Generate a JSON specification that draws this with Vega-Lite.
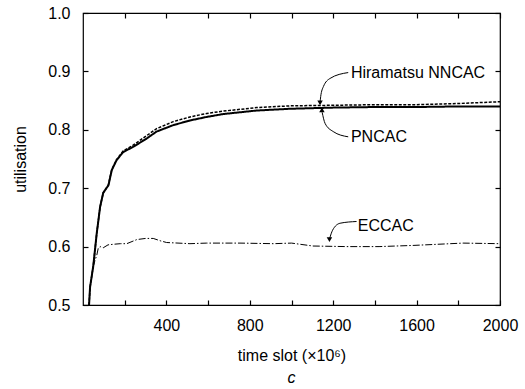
{
  "$schema": "https://vega.github.io/schema/vega-lite/v6.json",
  "autosize": "none",
  "width": 417,
  "height": 292,
  "padding": {"left": 83, "top": 13, "right": 25, "bottom": 84},
  "background": "white",
  "config": {
    "font": "Liberation Sans",
    "view": {"stroke": "black", "strokeWidth": 1.2},
    "axis": {"domainColor": "black", "tickColor": "black", "tickWidth": 1.2, "labelColor": "black", "titleColor": "black", "grid": false, "labelFont": "Liberation Sans", "titleFont": "Liberation Sans", "labelFontSize": 16, "titleFontSize": 16, "titleFontWeight": "normal"}
  },
  "title": {"text": "c", "orient": "bottom", "fontStyle": "italic", "fontWeight": "normal", "fontSize": 16, "font": "Liberation Sans", "color": "black", "offset": 7},
  "datasets": {
    "curves": [
      {"s": "PNCAC", "t": 29, "u": 0.5},
      {"s": "PNCAC", "t": 34, "u": 0.531},
      {"s": "PNCAC", "t": 49, "u": 0.566},
      {"s": "PNCAC", "t": 66, "u": 0.623},
      {"s": "PNCAC", "t": 82, "u": 0.668},
      {"s": "PNCAC", "t": 97, "u": 0.692},
      {"s": "PNCAC", "t": 122, "u": 0.705},
      {"s": "PNCAC", "t": 138, "u": 0.731},
      {"s": "PNCAC", "t": 161, "u": 0.748},
      {"s": "PNCAC", "t": 193, "u": 0.762},
      {"s": "PNCAC", "t": 242, "u": 0.771},
      {"s": "PNCAC", "t": 305, "u": 0.785},
      {"s": "PNCAC", "t": 353, "u": 0.797},
      {"s": "PNCAC", "t": 433, "u": 0.808},
      {"s": "PNCAC", "t": 513, "u": 0.816},
      {"s": "PNCAC", "t": 593, "u": 0.822},
      {"s": "PNCAC", "t": 673, "u": 0.827},
      {"s": "PNCAC", "t": 753, "u": 0.830},
      {"s": "PNCAC", "t": 833, "u": 0.833},
      {"s": "PNCAC", "t": 993, "u": 0.836},
      {"s": "PNCAC", "t": 1200, "u": 0.838},
      {"s": "PNCAC", "t": 1400, "u": 0.839},
      {"s": "PNCAC", "t": 1600, "u": 0.839},
      {"s": "PNCAC", "t": 1800, "u": 0.840},
      {"s": "PNCAC", "t": 2000, "u": 0.840},
      {"s": "Hiramatsu", "t": 29, "u": 0.5},
      {"s": "Hiramatsu", "t": 34, "u": 0.531},
      {"s": "Hiramatsu", "t": 49, "u": 0.566},
      {"s": "Hiramatsu", "t": 66, "u": 0.623},
      {"s": "Hiramatsu", "t": 82, "u": 0.668},
      {"s": "Hiramatsu", "t": 97, "u": 0.692},
      {"s": "Hiramatsu", "t": 122, "u": 0.706},
      {"s": "Hiramatsu", "t": 138, "u": 0.732},
      {"s": "Hiramatsu", "t": 161, "u": 0.749},
      {"s": "Hiramatsu", "t": 193, "u": 0.764},
      {"s": "Hiramatsu", "t": 242, "u": 0.774},
      {"s": "Hiramatsu", "t": 305, "u": 0.790},
      {"s": "Hiramatsu", "t": 353, "u": 0.802},
      {"s": "Hiramatsu", "t": 433, "u": 0.814},
      {"s": "Hiramatsu", "t": 513, "u": 0.822},
      {"s": "Hiramatsu", "t": 593, "u": 0.828},
      {"s": "Hiramatsu", "t": 673, "u": 0.832},
      {"s": "Hiramatsu", "t": 753, "u": 0.835},
      {"s": "Hiramatsu", "t": 833, "u": 0.838},
      {"s": "Hiramatsu", "t": 993, "u": 0.841},
      {"s": "Hiramatsu", "t": 1200, "u": 0.842},
      {"s": "Hiramatsu", "t": 1400, "u": 0.843},
      {"s": "Hiramatsu", "t": 1600, "u": 0.843},
      {"s": "Hiramatsu", "t": 1800, "u": 0.845},
      {"s": "Hiramatsu", "t": 2000, "u": 0.848},
      {"s": "ECCAC", "t": 48, "u": 0.565},
      {"s": "ECCAC", "t": 58, "u": 0.577},
      {"s": "ECCAC", "t": 66, "u": 0.585},
      {"s": "ECCAC", "t": 73, "u": 0.597},
      {"s": "ECCAC", "t": 82, "u": 0.600},
      {"s": "ECCAC", "t": 97, "u": 0.598},
      {"s": "ECCAC", "t": 120, "u": 0.603},
      {"s": "ECCAC", "t": 146, "u": 0.604},
      {"s": "ECCAC", "t": 180, "u": 0.605},
      {"s": "ECCAC", "t": 210, "u": 0.605},
      {"s": "ECCAC", "t": 258, "u": 0.612},
      {"s": "ECCAC", "t": 300, "u": 0.614},
      {"s": "ECCAC", "t": 337, "u": 0.614},
      {"s": "ECCAC", "t": 370, "u": 0.610},
      {"s": "ECCAC", "t": 401, "u": 0.607},
      {"s": "ECCAC", "t": 513, "u": 0.605},
      {"s": "ECCAC", "t": 593, "u": 0.606},
      {"s": "ECCAC", "t": 753, "u": 0.606},
      {"s": "ECCAC", "t": 913, "u": 0.605},
      {"s": "ECCAC", "t": 1000, "u": 0.606},
      {"s": "ECCAC", "t": 1103, "u": 0.601},
      {"s": "ECCAC", "t": 1265, "u": 0.600},
      {"s": "ECCAC", "t": 1420, "u": 0.600},
      {"s": "ECCAC", "t": 1583, "u": 0.602},
      {"s": "ECCAC", "t": 1823, "u": 0.606},
      {"s": "ECCAC", "t": 2000, "u": 0.605}
    ],
    "labels": [
      {"label": "Hiramatsu NNCAC", "t": 1285, "u": 0.897},
      {"label": "PNCAC", "t": 1285, "u": 0.788},
      {"label": "ECCAC", "t": 1318, "u": 0.635}
    ],
    "arrows": [
      {"a": "H", "o": 1, "t": 1272, "u": 0.898},
      {"a": "H", "o": 2, "t": 1185, "u": 0.888},
      {"a": "H", "o": 3, "t": 1153, "u": 0.874},
      {"a": "H", "o": 4, "t": 1140, "u": 0.857},
      {"a": "H", "o": 5, "t": 1137, "u": 0.847},
      {"a": "P", "o": 1, "t": 1272, "u": 0.788},
      {"a": "P", "o": 2, "t": 1200, "u": 0.797},
      {"a": "P", "o": 3, "t": 1161, "u": 0.811},
      {"a": "P", "o": 4, "t": 1147, "u": 0.830},
      {"a": "E", "o": 1, "t": 1312, "u": 0.643},
      {"a": "E", "o": 2, "t": 1233, "u": 0.640},
      {"a": "E", "o": 3, "t": 1197, "u": 0.628},
      {"a": "E", "o": 4, "t": 1183, "u": 0.614}
    ],
    "heads": [
      {"dir": "down", "t": 1137, "u": 0.846},
      {"dir": "up", "t": 1146, "u": 0.834},
      {"dir": "down", "t": 1182, "u": 0.612}
    ]
  },
  "layer": [
    {
      "data": {"name": "curves"},
      "mark": {"type": "line", "color": "black", "clip": true},
      "encoding": {
        "x": {"field": "t", "type": "quantitative", "scale": {"domain": [0, 2000], "nice": false},
              "axis": {"orient": "bottom", "values": [200, 400, 600, 800, 1000, 1200, 1400, 1600, 1800, 2000], "format": "d", "labelExpr": "datum.value % 400 === 0 ? datum.label : ''", "offset": -5, "tickSize": 5, "labelPadding": 12, "title": "time slot (×10⁶)", "titlePadding": 14, "domain": false, "labelFlush": false}},
        "y": {"field": "u", "type": "quantitative", "scale": {"domain": [0.5, 1.0], "nice": false, "zero": false},
              "axis": {"orient": "left", "values": [0.5, 0.6, 0.7, 0.8, 0.9, 1.0], "format": ".1f", "offset": -5, "tickSize": 5, "labelPadding": 13, "title": "utilisation", "titlePadding": 19, "domain": false}},
        "detail": {"field": "s"},
        "strokeDash": {"field": "s", "type": "nominal", "scale": {"domain": ["PNCAC", "Hiramatsu", "ECCAC"], "range": [[1, 0], [3, 1.5], [7, 2, 1.5, 2]]}, "legend": null},
        "strokeWidth": {"field": "s", "type": "nominal", "scale": {"domain": ["PNCAC", "Hiramatsu", "ECCAC"], "range": [2, 1, 1.2]}, "legend": null}
      }
    },
    {
      "data": {"name": "curves"},
      "mark": {"type": "point", "opacity": 0},
      "encoding": {
        "x": {"field": "t", "type": "quantitative", "axis": {"orient": "top", "values": [200, 400, 600, 800, 1000, 1200, 1400, 1600, 1800, 2000], "labels": false, "offset": -5, "tickSize": 5, "title": null, "domain": false}},
        "y": {"field": "u", "type": "quantitative", "axis": {"orient": "right", "values": [0.5, 0.6, 0.7, 0.8, 0.9, 1.0], "labels": false, "offset": -5, "tickSize": 5, "title": null, "domain": false}}
      }
    },
    {
      "data": {"name": "arrows"},
      "mark": {"type": "line", "color": "black", "strokeWidth": 1, "interpolate": "monotone"},
      "encoding": {
        "x": {"field": "t", "type": "quantitative", "axis": null},
        "y": {"field": "u", "type": "quantitative", "axis": null},
        "detail": {"field": "a"},
        "order": {"field": "o"}
      }
    },
    {
      "data": {"name": "heads"},
      "mark": {"type": "point", "filled": true, "color": "black", "opacity": 1, "size": 30},
      "encoding": {
        "x": {"field": "t", "type": "quantitative", "axis": null},
        "y": {"field": "u", "type": "quantitative", "axis": null},
        "shape": {"field": "dir", "type": "nominal", "scale": {"domain": ["down", "up"], "range": ["triangle-down", "triangle-up"]}, "legend": null}
      }
    },
    {
      "data": {"name": "labels"},
      "mark": {"type": "text", "align": "left", "baseline": "middle", "font": "Liberation Sans", "fontSize": 16, "color": "black"},
      "encoding": {
        "x": {"field": "t", "type": "quantitative", "axis": null},
        "y": {"field": "u", "type": "quantitative", "axis": null},
        "text": {"field": "label"}
      }
    }
  ],
  "resolve": {"axis": {"x": "independent", "y": "independent"}}
}
